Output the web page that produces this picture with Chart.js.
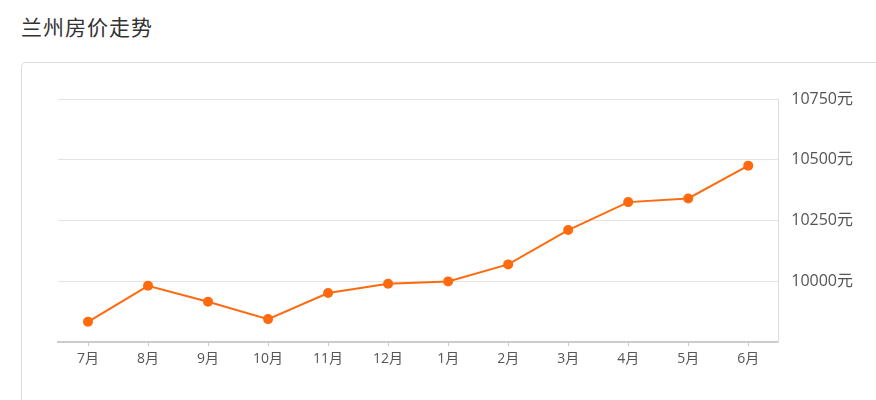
<!DOCTYPE html>
<html lang="zh">
<head>
    <meta charset="UTF-8">
    <title>兰州房价走势</title>
    <style>
        body {
            margin: 0;
            width: 876px;
            height: 400px;
            overflow: hidden;
            background: #ffffff;
            font-family: 'Noto Sans CJK SC', 'Noto Sans', sans-serif;
            position: relative;
        }
        .title {
            position: absolute;
            left: 21px;
            top: 11px;
            font-size: 21px;
            color: #333333;
            letter-spacing: 1px;
        }
        .card {
            position: absolute;
            left: 21px;
            top: 62px;
            width: 900px;
            height: 400px;
            border: 1px solid #dcdcdc;
            border-radius: 5px;
        }
        #chart {
            position: absolute;
            left: 0;
            top: 0;
        }
    </style>
</head>
<body>
    <div class="title">兰州房价走势</div>
    <div class="card"></div>
    <canvas id="chart" width="876" height="400"></canvas>

    <script src="https://cdn.jsdelivr.net/npm/chart.js"></script>
    <script>
        // 月份
        const months = ['7月', '8月', '9月', '10月', '11月', '12月', '1月', '2月', '3月', '4月', '5月', '6月'];
        // 均价 (元/平方米)
        const prices = [9834, 9982, 9916, 9845, 9952, 9990, 10000, 10070, 10211, 10326, 10341, 10476];
        // 纵轴刻度
        const yMin = 9750;
        const yMax = 10750;
        const yStep = 250;

        const labelFont = "'Open Sans', 'Noto Sans CJK SC', sans-serif";
        const ctx = document.getElementById('chart').getContext('2d');

        new Chart(ctx, {
            type: 'line',
            data: {
                labels: months,
                datasets: [{
                    data: prices,
                    borderColor: '#ff6a0f',
                    backgroundColor: '#ff6a0f',
                    borderWidth: 2,
                    pointRadius: 5,
                    pointHoverRadius: 5,
                    pointBorderWidth: 0,
                    tension: 0,
                    fill: false
                }]
            },
            options: {
                responsive: false,
                animation: false,
                layout: {
                    padding: { left: 58, top: 99, right: 10, bottom: 29 }
                },
                plugins: {
                    legend: { display: false },
                    tooltip: { enabled: false }
                },
                scales: {
                    x: {
                        offset: true,
                        grid: {
                            drawOnChartArea: false,
                            drawTicks: true,
                            tickLength: 4,
                            color: '#cccccc'
                        },
                        border: { color: '#cccccc', width: 2 },
                        ticks: {
                            color: '#555555',
                            padding: 4,
                            font: { size: 14, family: labelFont }
                        }
                    },
                    y: {
                        position: 'right',
                        min: yMin,
                        max: yMax,
                        grid: {
                            color: '#e3e3e3',
                            drawTicks: false
                        },
                        border: { color: '#dddddd', width: 1 },
                        ticks: {
                            stepSize: yStep,
                            padding: 13,
                            color: '#555555',
                            font: { size: 16, family: labelFont },
                            callback: function (value) {
                                return value === yMin ? '' : value + '元';
                            }
                        }
                    }
                }
            }
        });
    </script>
</body>
</html>
